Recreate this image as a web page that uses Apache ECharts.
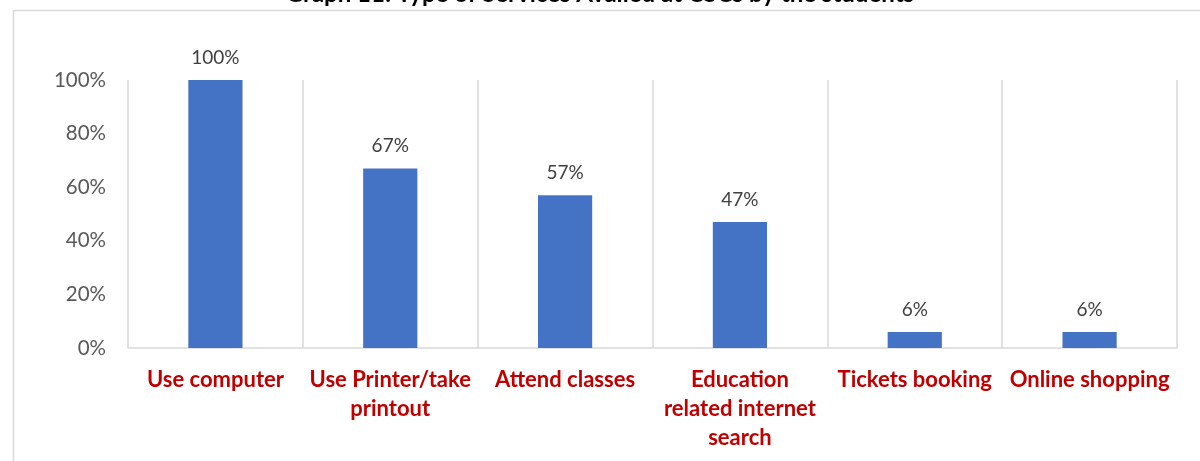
<!DOCTYPE html>
<html><head><meta charset="utf-8">
<script src="https://cdn.jsdelivr.net/npm/echarts@6/dist/echarts.min.js"></script>
<style>html,body{margin:0;padding:0;background:#fff}#c{width:1200px;height:461px}</style>
</head><body><div id="c"></div>
<script>
const titleText = 'Graph 11: Type of Services Availed at CSCs by the students';
const categories = ['Use computer', 'Use Printer/take\nprintout', 'Attend classes', 'Education\nrelated internet\nsearch', 'Tickets booking', 'Online shopping'];
const values = [100, 67, 57, 47, 6, 6];
const yTicks = [0, 20, 40, 60, 80, 100];

const FONT = 'Lato';
const chart = echarts.init(document.getElementById('c'), null, {renderer: 'canvas'});
chart.setOption({
  animation: false,
  backgroundColor: '#fff',
  graphic: [
    {type: 'rect', left: 11, top: 8, shape: {width: 1250, height: 520}, style: {fill: 'none', stroke: '#d9d9d9', lineWidth: 1.5}, silent: true},
    {type: 'text', left: 'center', top: -18, style: {text: titleText, font: 'bold 24px ' + FONT, fill: '#000'}}
  ],
  grid: {left: 128, right: 23, top: 80, bottom: 113, containLabel: false},
  xAxis: {
    type: 'category',
    data: categories,
    axisLine: {lineStyle: {color: '#d9d9d9', width: 1.5}},
    axisTick: {show: false},
    splitLine: {show: true, lineStyle: {color: '#d9d9d9', width: 1.5}},
    axisLabel: {interval: 0, color: '#c00000', fontWeight: 'bold', fontFamily: FONT, fontSize: 22, lineHeight: 29, margin: 17}
  },
  yAxis: {
    type: 'value', min: 0, max: 100, interval: 20,
    axisLine: {show: false}, axisTick: {show: false}, splitLine: {show: false},
    axisLabel: {color: '#595959', fontFamily: FONT, fontSize: 20.5, margin: 22, formatter: v => v + '%'}
  },
  series: [{
    type: 'bar', data: values, barWidth: '31%',
    itemStyle: {color: '#4472c4'},
    label: {show: true, position: 'top', distance: 13, color: '#404040', fontFamily: FONT, fontSize: 19, formatter: p => p.value + '%'}
  }]
});
</script></body></html>
